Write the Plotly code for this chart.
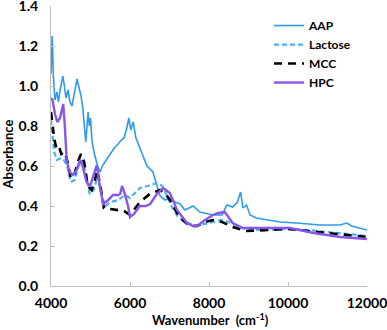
import plotly.graph_objects as go

wn_aap = [4000, 4030, 4060, 4100, 4150, 4190, 4230, 4300, 4340, 4380, 4430, 4480, 4530, 4580, 4660, 4700, 4760, 4800,
          4850, 4880, 4940, 4970, 5000, 5040, 5100, 5180, 5240, 5300, 5400, 5500, 5600, 5700, 5780, 5850, 5920, 5970,
          6020, 6080, 6150, 6250, 6330, 6430, 6580, 6680, 6760, 6890, 7010, 7140, 7270, 7390, 7520, 7600, 7770, 7950,
          8100, 8330, 8450, 8600, 8720, 8800, 8860, 8950, 9040, 9200, 9500, 9800, 10220, 10810, 11320, 11490, 11610, 12000]
abs_aap = [1.06, 1.25, 1.05, 0.93, 0.97, 0.92, 0.98, 1.05, 1.00, 0.94, 0.98, 0.92, 0.90, 0.96, 1.035, 1.00, 0.95, 0.90,
           0.78, 0.72, 0.87, 0.80, 0.84, 0.72, 0.66, 0.60, 0.57, 0.60, 0.63, 0.66, 0.69, 0.71, 0.73, 0.74, 0.79, 0.84,
           0.78, 0.82, 0.74, 0.69, 0.65, 0.60, 0.57, 0.50, 0.45, 0.43, 0.44, 0.42, 0.41, 0.38, 0.39, 0.40, 0.37, 0.36,
           0.355, 0.355, 0.405, 0.395, 0.42, 0.47, 0.39, 0.405, 0.355, 0.34, 0.33, 0.32, 0.315, 0.305, 0.305, 0.315, 0.30, 0.28]

wn_lac = [4000, 4040, 4080, 4150, 4250, 4330, 4420, 4500, 4600, 4700, 4800, 4880, 4980, 5080, 5180, 5280, 5380, 5500,
          5700, 5870, 6000, 6100, 6250, 6450, 6680, 6820, 6920, 7050, 7200, 7400, 7600, 7770, 8100, 8330, 8500, 8700,
          9000, 9500, 10000, 10500, 11000, 11500, 12000]
abs_lac = [0.83, 0.74, 0.67, 0.63, 0.64, 0.63, 0.59, 0.52, 0.53, 0.60, 0.63, 0.56, 0.46, 0.48, 0.55, 0.45, 0.40, 0.42,
           0.43, 0.455, 0.44, 0.46, 0.49, 0.50, 0.515, 0.50, 0.455, 0.40, 0.35, 0.32, 0.305, 0.305, 0.32, 0.33, 0.32, 0.30,
           0.28, 0.28, 0.285, 0.28, 0.27, 0.26, 0.25]

wn_mcc = [4000, 4040, 4080, 4130, 4200, 4260, 4350, 4420, 4500, 4580, 4680, 4760, 4840, 4930, 5030, 5100, 5170, 5250,
          5340, 5500, 5700, 5850, 6000, 6100, 6250, 6500, 6760, 6900, 7010, 7150, 7270, 7520, 7700, 7900, 8100, 8330,
          8600, 8950, 9500, 10000, 10500, 11000, 11500, 12000]
abs_mcc = [0.87, 0.80, 0.74, 0.69, 0.70, 0.66, 0.67, 0.62, 0.54, 0.55, 0.62, 0.66, 0.62, 0.50, 0.48, 0.52, 0.58, 0.50,
           0.39, 0.385, 0.38, 0.375, 0.355, 0.38, 0.42, 0.46, 0.48, 0.46, 0.43, 0.38, 0.34, 0.30, 0.30, 0.32, 0.33, 0.32,
           0.295, 0.275, 0.28, 0.285, 0.275, 0.265, 0.255, 0.245]

wn_hpc = [4000, 4040, 4100, 4160, 4230, 4280, 4310, 4350, 4400, 4480, 4560, 4650, 4730, 4800, 4900, 4990, 5080, 5160,
          5220, 5320, 5450, 5570, 5700, 5750, 5800, 5870, 5950, 6000, 6100, 6250, 6400, 6510, 6680, 6840, 7010, 7190,
          7440, 7600, 7700, 7900, 8100, 8230, 8400, 8600, 8860, 9200, 9800, 10050, 10650, 11320, 12000]
abs_hpc = [0.94, 0.93, 0.86, 0.82, 0.84, 0.88, 0.91, 0.80, 0.62, 0.57, 0.555, 0.58, 0.63, 0.60, 0.52, 0.50, 0.56, 0.605,
           0.52, 0.41, 0.43, 0.455, 0.455, 0.46, 0.50, 0.46, 0.40, 0.345, 0.36, 0.40, 0.40, 0.41, 0.46, 0.49, 0.465, 0.38,
           0.315, 0.30, 0.30, 0.33, 0.355, 0.365, 0.37, 0.315, 0.29, 0.29, 0.29, 0.29, 0.265, 0.245, 0.235]

x_ticks = [4000, 6000, 8000, 10000, 12000]
y_ticks = [0.0, 0.2, 0.4, 0.6, 0.8, 1.0, 1.2, 1.4]

FONT = "Lato"

fig = go.Figure()
fig.add_trace(go.Scatter(x=wn_aap, y=abs_aap, name="AAP", mode="lines",
                         line=dict(color="#2E9AF0", width=1.6)))
fig.add_trace(go.Scatter(x=wn_lac, y=abs_lac, name="Lactose", mode="lines",
                         line=dict(color="#45B2F5", width=2.2, dash="5px,3px")))
fig.add_trace(go.Scatter(x=wn_mcc, y=abs_mcc, name="MCC", mode="lines",
                         line=dict(color="#000000", width=2.6, dash="8px,6px")))
fig.add_trace(go.Scatter(x=wn_hpc, y=abs_hpc, name="HPC", mode="lines",
                         line=dict(color="#8A55E8", width=2.4)))

fig.update_layout(
    width=387, height=330,
    margin=dict(l=51, r=20, t=6, b=44),
    paper_bgcolor="white", plot_bgcolor="white",
    font=dict(family=FONT, size=12, color="black", weight="bold"),
    showlegend=True,
    legend=dict(x=0.69, y=0.982, xanchor="left", yanchor="top",
                bgcolor="rgba(0,0,0,0)", font=dict(family=FONT, size=12, weight="bold"),
                tracegroupgap=0, itemwidth=30),
    annotations=[
        dict(text="Absorbance", xref="paper", yref="paper", x=-0.136, y=0.47, textangle=-90,
             showarrow=False, xanchor="center", yanchor="middle",
             font=dict(family=FONT, size=13, weight="bold", color="black")),
        dict(text="Wavenumber  (cm<sup>-1</sup>)", xref="paper", yref="paper", x=0.506, y=-0.118,
             showarrow=False, xanchor="center", yanchor="middle",
             font=dict(family=FONT, size=13, weight="bold", color="black")),
    ],
)
fig.update_xaxes(range=[4000, 12000], tickvals=x_ticks, ticktext=[str(v) for v in x_ticks],
                 automargin=False, ticklabeloverflow="allow", ticklabelstandoff=4,
                 showgrid=False, zeroline=False, showline=True, linecolor="#BFBFBF", linewidth=1,
                 ticks="inside", ticklen=4, tickcolor="#BFBFBF",
                 tickfont=dict(family=FONT, size=14, weight="bold"))
fig.update_yaxes(range=[0, 1.4], tickvals=y_ticks, ticktext=[f"{v:.1f}" for v in y_ticks],
                 automargin=False, ticklabeloverflow="allow", ticklabelstandoff=9,
                 showgrid=False, zeroline=False, showline=True, linecolor="#BFBFBF", linewidth=1,
                 ticks="inside", ticklen=4, tickcolor="#BFBFBF",
                 tickfont=dict(family=FONT, size=14, weight="bold"))

fig.write_html("out.html", config={"responsive": False, "displayModeBar": False},
               post_script="document.body.style.margin='0';")
